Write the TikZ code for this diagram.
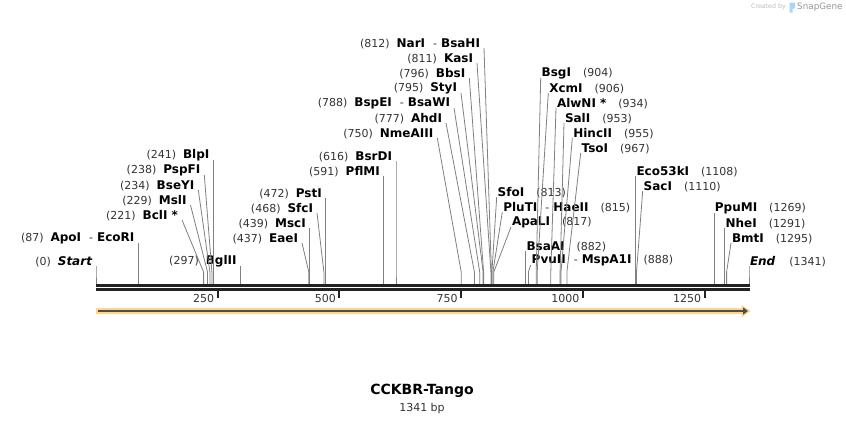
\documentclass[tikz,border=0pt]{standalone}
\usepackage{fontspec}
\setmainfont{DejaVu Sans}
\usetikzlibrary{arrows.meta,positioning}
\definecolor{cutgray}{HTML}{808080}
\definecolor{numgray}{HTML}{333333}
\definecolor{bbone}{HTML}{222222}
\definecolor{featfill}{HTML}{FFD58A}
\definecolor{featline}{HTML}{4D4D4D}
\definecolor{logogray}{HTML}{BDBDBD}
\definecolor{logoblue}{HTML}{A8D8F5}
\def\enz#1{{\fontsize{12}{14}\selectfont\bfseries\color{black}#1}}
\def\cutsite(#1.#2)(#3){\coordinate (#1-c) at (#3,272); \coordinate (#1-s) at (#3,284); \draw[cut] (#1.#2) -- (#1-c) -- (#1-s);}
\tikzset{
  lbl/.style={font=\fontsize{11}{13}\selectfont, text=numgray, inner ysep=-1pt, outer sep=0pt},
  lblL/.style={lbl, anchor=south east, inner xsep=4pt},
  lblR/.style={lbl, anchor=south west, inner xsep=1pt},
  cut/.style={draw=cutgray, line width=0.8pt},
  bbline/.style={draw=bbone, line width=2.7pt},
  ticklbl/.style={lbl, anchor=east, inner xsep=0pt}
}

\begin{document}
\begin{tikzpicture}[x=1pt,y=-1pt]
		%%%%% START %%%%%
		\useasboundingbox (0,0) rectangle (846,423);
		\fill[white] (0,0) rectangle (846,423);
		
		% labels left of their sites
		\node[lblL] (seqstart) at (96,266) {(0)\hspace{7pt}\enz{\itshape Start}};
		\node[lblL] (apoI) at (138.4,243) {(87)\hspace{7pt}\enz{ApoI}\hspace{8pt}-\hspace{4pt}\enz{EcoRI}};
		\node[lblL] (bclI) at (182,220) {(221)\hspace{7pt}\enz{BclI *}};
		\node[lblL] (mslI) at (190.5,205) {(229)\hspace{7pt}\enz{MslI}};
		\node[lblL] (bseYI) at (198.3,190) {(234)\hspace{7pt}\enz{BseYI}};
		\node[lblL] (pspFI) at (204.3,175) {(238)\hspace{7pt}\enz{PspFI}};
		\node[lblL] (blpI) at (213.4,160) {(241)\hspace{7pt}\enz{BlpI}};
		\node[lblL] (bglII) at (240.6,266) {(297)\hspace{7pt}\enz{BglII}};
		
		\node[lblL] (eaeI) at (302,243) {(437)\hspace{7pt}\enz{EaeI}};
		\node[lblL] (mscI) at (309.8,228) {(439)\hspace{7pt}\enz{MscI}};
		\node[lblL] (sfcI) at (317,213) {(468)\hspace{7pt}\enz{SfcI}};
		\node[lblL] (pstI) at (325.8,198) {(472)\hspace{7pt}\enz{PstI}};
		\node[lblL] (pflMI) at (383.8,176) {(591)\hspace{7pt}\enz{PflMI}};
		\node[lblL] (bsrDI) at (396,161) {(616)\hspace{7pt}\enz{BsrDI}};
		
		\node[lblL] (nmeAIII) at (437.3,138) {(750)\hspace{7pt}\enz{NmeAIII}};
		\node[lblL] (ahdI) at (446,123) {(777)\hspace{7pt}\enz{AhdI}};
		\node[lblL] (bspEI) at (454,108) {(788)\hspace{7pt}\enz{BspEI}\hspace{8pt}-\hspace{4pt}\enz{BsaWI}};
		\node[lblL] (styI) at (461,93) {(795)\hspace{7pt}\enz{StyI}};
		\node[lblL] (bbsI) at (469.3,78) {(796)\hspace{7pt}\enz{BbsI}};
		\node[lblL] (kasI) at (477,63) {(811)\hspace{7pt}\enz{KasI}};
		\node[lblL] (narI) at (484,48) {(812)\hspace{7pt}\enz{NarI}\hspace{8pt}-\hspace{4pt}\enz{BsaHI}};
		
		% labels right of their sites
		\node[lblR] (sfoI) at (496.7,197) {\enz{SfoI}\hspace{12pt}(813)};
		\node[lblR] (pluTI) at (502.3,212) {\enz{PluTI}\hspace{8pt}-\hspace{4pt}\enz{HaeII}\hspace{12pt}(815)};
		\node[lblR] (apaLI) at (511,227) {\enz{ApaLI}\hspace{12pt}(817)};
		\node[lblR] (bsaAI) at (525.5,251) {\enz{BsaAI}\hspace{12pt}(882)};
		\node[lblR] (pvuII) at (530.7,265) {\enz{PvuII}\hspace{8pt}-\hspace{4pt}\enz{MspA1I}\hspace{12pt}(888)};
		
		\node[lblR] (bsgI) at (540.7,78) {\enz{BsgI}\hspace{12pt}(904)};
		\node[lblR] (xcmI) at (548.3,93) {\enz{XcmI}\hspace{12pt}(906)};
		\node[lblR] (alwNI) at (556,108) {\enz{AlwNI *}\hspace{12pt}(934)};
		\node[lblR] (salI) at (564,123) {\enz{SalI}\hspace{12pt}(953)};
		\node[lblR] (hincII) at (572.3,138) {\enz{HincII}\hspace{12pt}(955)};
		\node[lblR] (tsoI) at (580.7,153) {\enz{TsoI}\hspace{12pt}(967)};
		
		\node[lblR] (eco53kI) at (635.5,176) {\enz{Eco53kI}\hspace{12pt}(1108)};
		\node[lblR] (sacI) at (642.7,191) {\enz{SacI}\hspace{12pt}(1110)};
		\node[lblR] (ppuMI) at (713.9,213) {\enz{PpuMI}\hspace{12pt}(1269)};
		\node[lblR] (nheI) at (724.6,228) {\enz{NheI}\hspace{12pt}(1291)};
		\node[lblR] (bmtI) at (731,243) {\enz{BmtI}\hspace{12pt}(1295)};
		\node[lblR] (seqend) at (749,266) {\enz{\itshape End}\hspace{14pt}(1341)};
		
		% cut lines down to the backbone
		\cutsite(seqstart.south east)(96)
		\cutsite(apoI.south east)(138.4)
		\cutsite(bclI.south east)(203.6)
		\cutsite(mslI.south east)(207.5)
		\cutsite(bseYI.south east)(209.9)
		\cutsite(pspFI.south east)(211.9)
		\cutsite(blpI.south east)(213.4)
		\cutsite(bglII.south east)(240.6)
		\cutsite(eaeI.south east)(308.8)
		\cutsite(mscI.south east)(309.8)
		\cutsite(sfcI.south east)(323.9)
		\cutsite(pstI.south east)(325.8)
		\cutsite(pflMI.south east)(383.8)
		\cutsite(bsrDI.south east)(396)
		\cutsite(nmeAIII.south east)(461.2)
		\cutsite(ahdI.south east)(474.4)
		\cutsite(bspEI.south east)(479.7)
		\cutsite(styI.south east)(483.1)
		\cutsite(bbsI.south east)(483.6)
		\cutsite(kasI.south east)(490.9)
		\cutsite(narI.south east)(491.4)
		\cutsite(sfoI.south west)(491.9)
		\cutsite(pluTI.south west)(492.9)
		\cutsite(apaLI.south west)(493.8)
		\cutsite(bsaAI.south west)(525.5)
		\cutsite(pvuII.south west)(528.4)
		\cutsite(bsgI.south west)(536.2)
		\cutsite(xcmI.south west)(537.2)
		\cutsite(alwNI.south west)(550.8)
		\cutsite(salI.south west)(560.1)
		\cutsite(hincII.south west)(561)
		\cutsite(tsoI.south west)(566.9)
		\cutsite(eco53kI.south west)(635.5)
		\cutsite(sacI.south west)(636.5)
		\cutsite(ppuMI.south west)(713.9)
		\cutsite(nheI.south west)(724.6)
		\cutsite(bmtI.south west)(726.6)
		\cutsite(seqend.south west)(749)
		
		% backbone and ruler
		\draw[bbline] (96,285.3) -- (750,285.3);
		\draw[bbline] (96,289.3) -- (750,289.3);
		\foreach \p in {250,500,750,1000,1250} {
			\pgfmathsetmacro{\tx}{96+\p*0.48695}
			\draw[draw=bbone, line width=2pt] (\tx,290.5) -- (\tx,297.5);
			\node[ticklbl] (tk\p) at (\tx-3.5,298) {\p};
		}
		
		% feature arrow
		\fill[featfill] (96,308) -- (741.5,308) -- (741.5,305) -- (750.5,311) -- (741.5,317.3) -- (741.5,314) -- (96,314) -- cycle;
		\draw[featline, line width=1.8pt, -{Triangle[length=5pt,width=7pt]}] (98,311) -- (748,311);
		
		% title
		\node[font=\fontsize{14}{16}\selectfont\bfseries] (title) at (422,391) {CCKBR-Tango};
		\node[font=\fontsize{11}{13}\selectfont, text=numgray, below=-2pt of title] (seqlen) {1341 bp};
		
		% credit
		\node[font=\fontsize{6.3}{7}\selectfont, text=logogray, anchor=east, inner sep=0pt] (credit) at (786,7) {Created by};
		\fill[logoblue] (789.5,2.5) -- (795,2.5) -- (795,8) -- (792.5,9) -- (792.5,12.5) -- (789.5,12.5) -- cycle;
		\node[font=\fontsize{8.8}{10}\selectfont, text=logogray!80!black, anchor=west, inner sep=0pt] (snapgene) at (797,7) {SnapGene};
		
		%%%%% END %%%%%
	\end{tikzpicture}
\end{document}
